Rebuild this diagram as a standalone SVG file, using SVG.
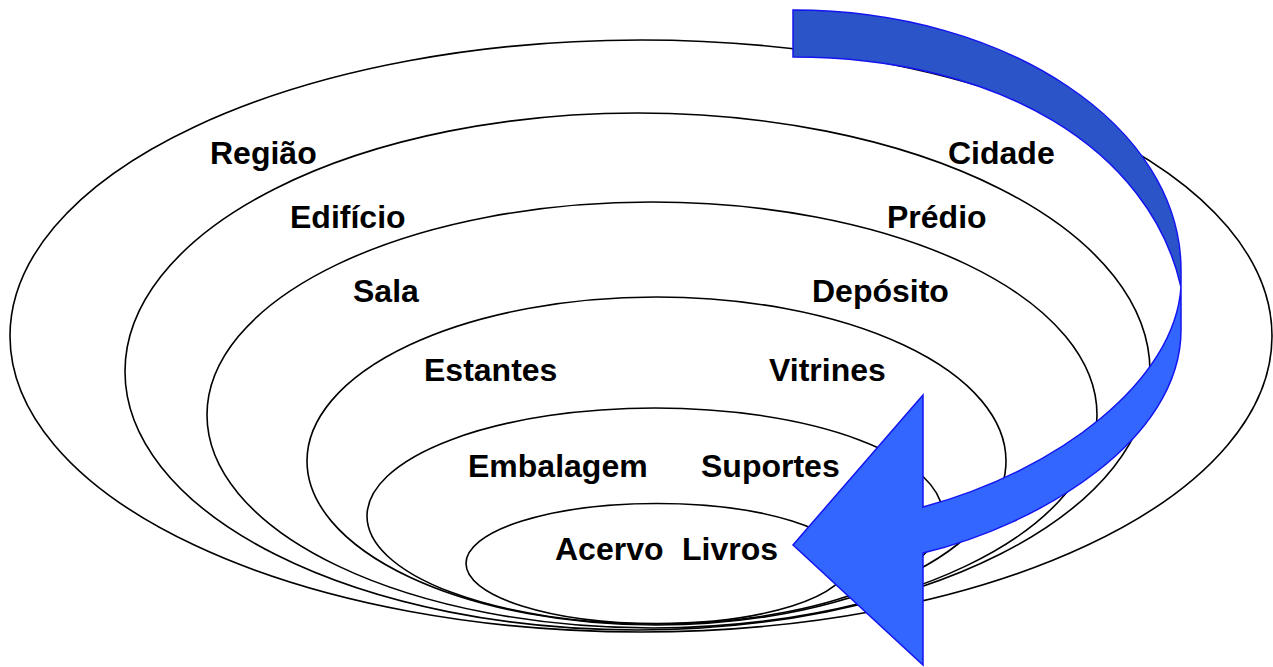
<svg xmlns="http://www.w3.org/2000/svg" width="1273" height="667" viewBox="0 0 1273 667">
<style>
.ring{fill:none;stroke:#000;stroke-width:1.6}
.lbl{font-family:"Liberation Sans",Arial,sans-serif;font-weight:bold;font-size:32px;fill:#000}
.dark{fill:#2B54C9;stroke:#1414F0;stroke-width:1.5;stroke-linejoin:miter}
.light{fill:#3366FF;stroke:#1414F0;stroke-width:1.5;stroke-linejoin:miter}
</style>
<rect x="0" y="0" width="1273" height="667" fill="#fff"/>
<g id="ring-regiao-cidade">
<ellipse class="ring" cx="641" cy="336" rx="631" ry="296"/>
<text class="lbl" x="210" y="164">Região</text>
<text class="lbl" x="948" y="164">Cidade</text>
</g>
<g id="ring-edificio-predio">
<ellipse class="ring" cx="637.5" cy="371.5" rx="512.5" ry="258.5"/>
<text class="lbl" x="290" y="228">Edifício</text>
<text class="lbl" x="887" y="228">Prédio</text>
</g>
<g id="ring-sala-deposito">
<ellipse class="ring" cx="652" cy="415" rx="445" ry="213"/>
<text class="lbl" x="353" y="302">Sala</text>
<text class="lbl" x="812" y="302">Depósito</text>
</g>
<g id="ring-estantes-vitrines">
<ellipse class="ring" cx="656.5" cy="461" rx="349.5" ry="164"/>
<text class="lbl" x="424" y="381">Estantes</text>
<text class="lbl" x="769" y="381">Vitrines</text>
</g>
<g id="ring-embalagem-suportes">
<ellipse class="ring" cx="655" cy="516" rx="288" ry="108"/>
<text class="lbl" x="468" y="477">Embalagem</text>
<text class="lbl" x="701" y="477">Suportes</text>
</g>
<g id="ring-acervo-livros">
<ellipse class="ring" cx="657" cy="563.5" rx="191" ry="60"/>
<text class="lbl" x="555" y="560">Acervo</text>
<text class="lbl" x="682" y="560">Livros</text>
</g>
<g id="connectors">
<path class="dark" d="M793,10 C1007,10 1181,126 1181,270 L1181,287 C1150,150 1000,57 793,57 Z"/>
<path class="light" d="M1181,287 C1175,380 1060,470 923,507 L923,395 L793,545 L923,665 L923,553 C1040,525 1181,440 1181,330 Z"/>
</g>
</svg>
